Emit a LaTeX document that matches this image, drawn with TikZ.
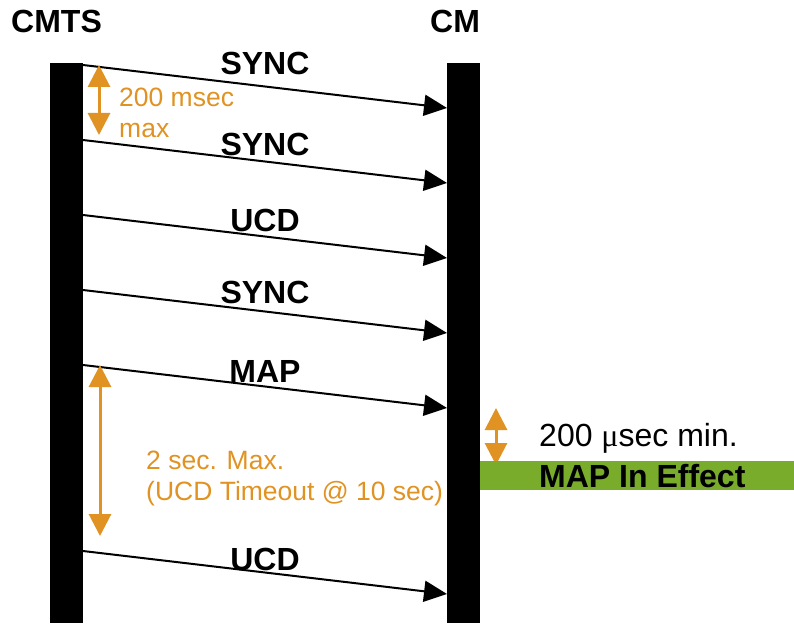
\documentclass[tikz,border=0pt]{standalone}
\usepackage{fontspec}
\setmainfont{Liberation Sans}
\newfontfamily\grk{Liberation Serif}
\usetikzlibrary{arrows.meta}
\definecolor{timeorange}{RGB}{224,146,34}
\definecolor{mapgreen}{RGB}{121,172,42}
\tikzset{
  lifeline/.style={fill=black,draw=none},
  msg/.style={line width=2pt,-{Triangle[length=23pt,width=21pt]}},
  msglab/.style={anchor=base,inner sep=0pt,font=\bfseries\fontsize{32}{36}\selectfont},
  span/.style={draw=timeorange,line width=3pt,{Triangle[length=22pt,width=22pt]}-{Triangle[length=22pt,width=22pt]}},
  spanlab/.style={anchor=base west,inner sep=0pt,align=left,text=timeorange,font=\fontsize{26.5}{30.5}\selectfont}
}
\begin{document}
\begin{tikzpicture}[x=1pt,y=-1pt]
\useasboundingbox (0,0) rectangle (794,623);
% the two stations
\fill[lifeline] (50,63) rectangle (83,623);
\fill[lifeline] (447,63) rectangle (480,623);
\node[msglab,anchor=base west] (cmts) at (11,33) {CMTS};
\node[msglab,anchor=base west] (cm) at (430,33) {CM};
% messages CMTS -> CM
\foreach \y/\b/\lab [count=\k] in {65/75/SYNC,140/155/SYNC,215/231/UCD,290/303/SYNC,365/382/MAP,551/570/UCD}{
  \coordinate (tx\k) at (83,\y);
  \coordinate (rx\k) at (447,\y+43);
  \draw[msg] (tx\k) -- (rx\k);
  \node[msglab] (lab\k) at (265,\b) {\lab};
}
% timing (base = last line)
\coordinate (t1a) at (99,65); \coordinate (t1b) at (99,135);
\draw[span] (t1a) -- (t1b);
\node[spanlab] (syncmax) at (119,137) {200 msec\\max};
\coordinate (t2a) at (100,365); \coordinate (t2b) at (100,536);
\draw[span] (t2a) -- (t2b);
\node[spanlab] (ucdmax) at (146,500) {2 sec. Max.\\(UCD Timeout @ 10 sec)};
\coordinate (t3a) at (496,408); \coordinate (t3b) at (496,465);
\draw[span] (t3a) -- (t3b);
\node[anchor=base west,inner sep=0pt,font=\fontsize{32}{36}\selectfont] (mapmin) at (539,446) {200 {\grk μ}sec min.};
% map in effect band
\fill[mapgreen] (480,461) rectangle (794,490);
\node[msglab,anchor=base west] (effect) at (539,487) {MAP In Effect};
\end{tikzpicture}
\end{document}
